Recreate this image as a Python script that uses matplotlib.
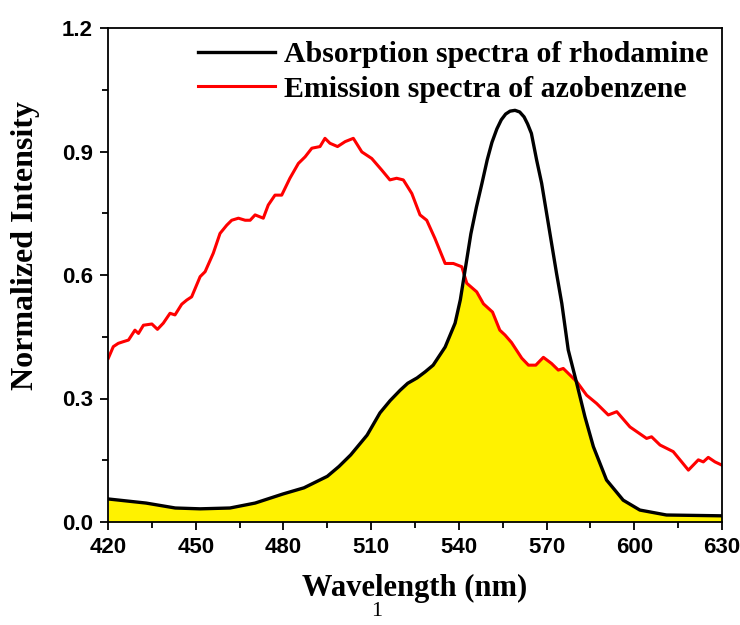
import numpy as np
import matplotlib.pyplot as plt
from matplotlib.ticker import MultipleLocator

# absorption spectrum of rhodamine (black)
abs_x = [420, 433, 443, 451.5, 461.7, 470.3, 479.8, 487, 495, 499, 503, 508.6,
         513, 516.5, 519.9, 522.5, 525.7, 528.5, 531.2, 535.3, 538.7, 540.5,
         542.3, 544.1, 546, 547.9, 549.7, 551.3, 553, 554.5, 556, 557.5, 559.2,
         560.8, 562.3, 563.5, 564.8, 566.6, 568.3, 570, 571.7, 573.4, 575.2,
         577.4, 580.3, 583.1, 586, 590.5, 596.2, 601.9, 611, 630]
abs_y = [0.056, 0.046, 0.034, 0.032, 0.034, 0.046, 0.068, 0.083, 0.111, 0.135,
         0.163, 0.211, 0.265, 0.295, 0.32, 0.337, 0.35, 0.365, 0.381, 0.425,
         0.483, 0.54, 0.62, 0.70, 0.765, 0.823, 0.88, 0.922, 0.955, 0.977,
         0.991, 0.998, 1.0, 0.996, 0.984, 0.967, 0.944, 0.879, 0.823, 0.75,
         0.677, 0.604, 0.531, 0.418, 0.337, 0.256, 0.183, 0.102, 0.053, 0.029,
         0.017, 0.015]

# emission spectrum of azobenzene (red)
em_x = [420.1, 421.8, 423.5, 425.2, 427, 429.2, 430.4, 432.1, 435, 436.9, 438.9,
        441.2, 442.9, 445.2, 446.9, 448.6, 451.5, 453.2, 456, 458.3, 460.6,
        462.3, 464.6, 466.9, 468.6, 470.3, 473.1, 474.8, 477.1, 479.4, 482.2,
        485.1, 487.4, 489.7, 492.5, 494.2, 495.9, 498.5, 501.1, 503.9, 506.8,
        510.2, 513.6, 516.4, 518.7, 521, 523.9, 526.7, 529, 531.8, 535.3, 538.1,
        541, 542.7, 546.1, 548.4, 551.5, 554, 555.8, 558, 561.5, 563.8, 566.3,
        568.9, 571.7, 574, 575.7, 580.3, 583.7, 587.1, 591.1, 594, 598.5, 604.2,
        605.9, 608.8, 613.3, 616.2, 618.5, 621.9, 623.6, 625.3, 627.6, 630]
em_y = [0.398, 0.426, 0.434, 0.438, 0.442, 0.466, 0.458, 0.478, 0.481, 0.468,
        0.483, 0.507, 0.503, 0.529, 0.539, 0.547, 0.596, 0.608, 0.653, 0.701,
        0.721, 0.733, 0.738, 0.733, 0.733, 0.746, 0.738, 0.770, 0.794, 0.794,
        0.835, 0.871, 0.887, 0.908, 0.912, 0.932, 0.92, 0.912, 0.924, 0.932,
        0.899, 0.883, 0.855, 0.831, 0.835, 0.831, 0.798, 0.746, 0.733, 0.689,
        0.628, 0.628, 0.620, 0.58, 0.559, 0.53, 0.51, 0.466, 0.454, 0.436,
        0.398, 0.381, 0.381, 0.40, 0.385, 0.369, 0.373, 0.341, 0.308, 0.288,
        0.26, 0.268, 0.231, 0.203, 0.207, 0.187, 0.171, 0.146, 0.126, 0.151,
        0.146, 0.157, 0.146, 0.138]

serif = 'Liberation Serif'
sans = 'Liberation Sans'

fig = plt.figure(figsize=(7.4, 6.25), dpi=100)
ax = fig.add_axes([0.146, 0.1648, 0.8297, 0.7904])

# overlap region: area under both curves
xx = np.union1d(abs_x, em_x)
overlap = np.minimum(np.interp(xx, abs_x, abs_y), np.interp(xx, em_x, em_y))
ax.fill_between(xx, 0, overlap, color='#fff200', lw=0, zorder=1)

ax.plot(abs_x, abs_y, color='black', lw=2.4, label='Absorption spectra of rhodamine',
        zorder=3, solid_joinstyle='round')
ax.plot(em_x, em_y, color='red', lw=2.2, label='Emission spectra of azobenzene',
        zorder=2, solid_joinstyle='round')

ax.set_xlim(420, 630)
ax.set_ylim(0, 1.2)
ax.xaxis.set_major_locator(MultipleLocator(30))
ax.xaxis.set_minor_locator(MultipleLocator(15))
ax.yaxis.set_major_locator(MultipleLocator(0.3))
ax.yaxis.set_minor_locator(MultipleLocator(0.15))
ax.yaxis.set_major_formatter(plt.FormatStrFormatter('%.1f'))

ax.tick_params(which='major', direction='out', length=6, width=1.3, pad=5)
ax.tick_params(which='minor', direction='out', length=4, width=1.3)
ax.tick_params(top=False, right=False)
for lab in ax.get_xticklabels() + ax.get_yticklabels():
    lab.set_fontfamily(sans)
    lab.set_fontweight('bold')
    lab.set_fontsize(16)
for s in ax.spines.values():
    s.set_linewidth(1.3)

ax.set_xlabel('Wavelength (nm)', fontfamily=serif, fontweight='bold', fontsize=22, va='center')
ax.set_ylabel('Normalized Intensity', fontfamily=serif, fontweight='bold', fontsize=23, va='center')
ax.xaxis.set_label_coords(0.5, -0.135)
ax.yaxis.set_label_coords(-0.135, 0.559)

ax.legend(loc='upper right', frameon=False, handlelength=2.6, handletextpad=0.3,
          borderaxespad=0.05, labelspacing=0.25, bbox_to_anchor=(1.0, 1.0),
          prop={'family': serif, 'weight': 'bold', 'size': 21.5})

fig.text(377 / 740, 1 - 611 / 625, '1', fontfamily=serif, fontsize=16, ha='center', va='center')

fig.savefig('out.png', dpi=100)
